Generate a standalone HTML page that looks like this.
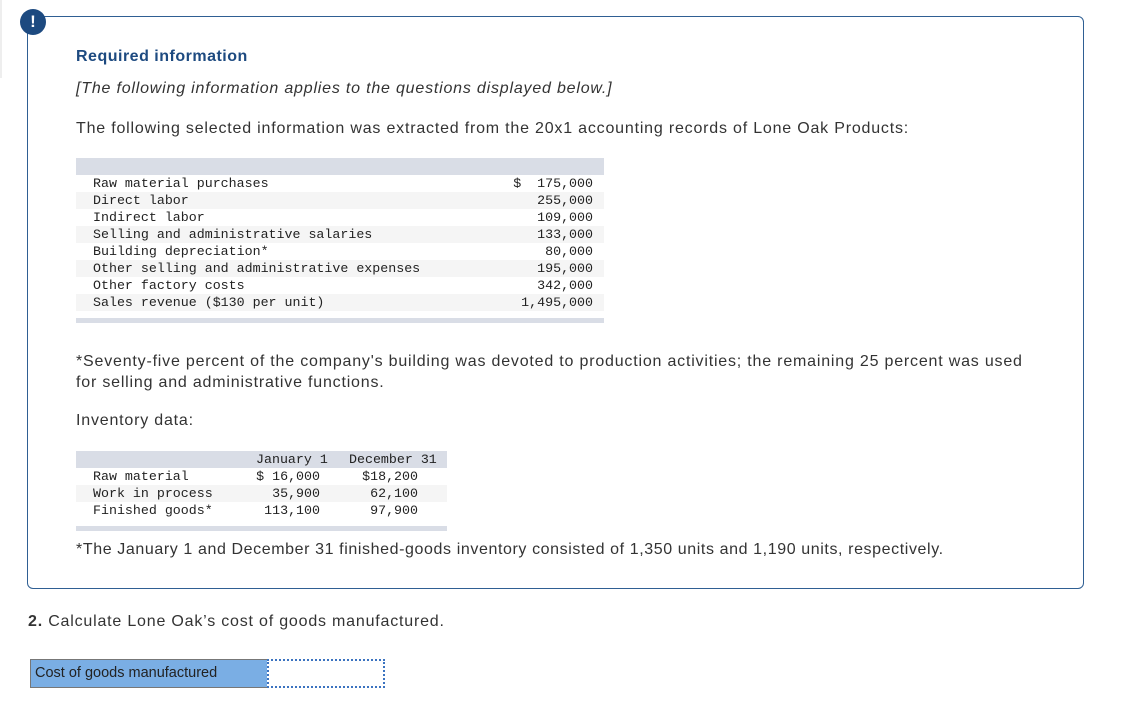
<!DOCTYPE html>
<html><head><meta charset="utf-8"><style>
body{margin:0;width:1125px;height:710px;background:#fff;position:relative;font-family:"Liberation Sans",Arial,sans-serif;color:#333;overflow:hidden}
.abs{position:absolute}
.box{left:27px;top:16px;width:1055px;height:571px;border:1px solid #2f5f93;border-radius:6px}
.badge{left:20px;top:9px;width:26px;height:26px;border-radius:50%;background:#1d4a80;color:#fff;font-weight:bold;font-size:17px;text-align:center;line-height:26px}
.t{font-size:16px;white-space:nowrap;letter-spacing:0.8px}
.mono{font-family:"Liberation Mono",monospace;font-size:13.3px;color:#222;white-space:pre;letter-spacing:0}
.row{position:absolute;height:17px;line-height:17px}
</style></head><body>
<div class="abs" style="left:0;top:0;width:2px;height:78px;background:#eee"></div>
<div class="abs box"></div>
<div class="abs badge">!</div>
<div class="abs t" style="left:76px;top:48px;font-weight:bold;color:#1d4a80;letter-spacing:0.5px">Required information</div>
<div class="abs t" style="left:76px;top:80px;font-style:italic">[The following information applies to the questions displayed below.]</div>
<div class="abs t" style="left:76px;top:120px">The following selected information was extracted from the 20x1 accounting records of Lone Oak Products:</div>

<div class="abs" style="left:76px;top:158px;width:528px;height:166px">
<div class="row" style="left:0;top:0;width:528px;background:#d9dde6"></div>
<div class="row" style="left:0;top:160px;width:528px;height:5px;background:#d9dde6"></div>
<div id="t1"></div>
</div>

<div class="abs t" style="left:76px;top:351px;line-height:21px">*Seventy-five percent of the company's building was devoted to production activities; the remaining 25 percent was used<br>for selling and administrative functions.</div>
<div class="abs t" style="left:76px;top:412px">Inventory data:</div>

<div class="abs" style="left:76px;top:451px;width:371px;height:81px">
<div class="row" style="left:0;top:0;width:371px;background:#d9dde6"></div>
<div class="row mono" style="left:180px;top:0">January 1</div>
<div class="row mono" style="left:273px;top:0">December 31</div>
<div class="row" style="left:0;top:75px;width:371px;height:5px;background:#d9dde6"></div>
<div id="t2"></div>
</div>

<div class="abs t" style="left:76px;top:541px;letter-spacing:0.6px">*The January 1 and December 31 finished-goods inventory consisted of 1,350 units and 1,190 units, respectively.</div>
<div class="abs t" style="left:28px;top:613px"><b>2.</b> Calculate Lone Oak’s cost of goods manufactured.</div>
<div class="abs" style="left:30px;top:659px;height:27px;background:#7aaee4;border:1px solid #777;font-size:14.5px;line-height:27px;color:#222;padding-left:4px;width:233px">Cost of goods manufactured</div>
<div class="abs" style="left:267px;top:659px;width:114px;height:25px;border:2px dotted #3b73c0;background:#fff"></div>

<script>
const labels1=["Raw material purchases","Direct labor","Indirect labor","Selling and administrative salaries","Building depreciation*","Other selling and administrative expenses","Other factory costs","Sales revenue ($130 per unit)"];
const values1=["$  175,000","255,000","109,000","133,000","80,000","195,000","342,000","1,495,000"];
const labels2=["Raw material","Work in process","Finished goods*"];
const jan=["$ 16,000","35,900","113,100"];
const dec=["$18,200","62,100","97,900"];
const t1=document.getElementById('t1');
labels1.forEach((l,i)=>{
  const r=document.createElement('div');
  r.className='row mono';
  
  
  r.style.cssText=`left:0;top:${17+i*17}px;width:528px;background:${i%2?'#f5f5f5':'transparent'}`;
  r.innerHTML=`<span style="position:absolute;left:17px">${l}</span><span style="position:absolute;right:11px">${values1[i]}</span>`;
  t1.appendChild(r);
});
const t2=document.getElementById('t2');
labels2.forEach((l,i)=>{
  const r=document.createElement('div');
  r.className='row mono';
  
  
  r.style.cssText=`left:0;top:${17+i*17}px;width:371px;background:${i%2?'#f5f5f5':'transparent'}`;
  r.innerHTML=`<span style="position:absolute;left:17px">${l}</span><span style="position:absolute;right:127px">${jan[i]}</span><span style="position:absolute;right:29px">${dec[i]}</span>`;
  t2.appendChild(r);
});
</script>
</body></html>
